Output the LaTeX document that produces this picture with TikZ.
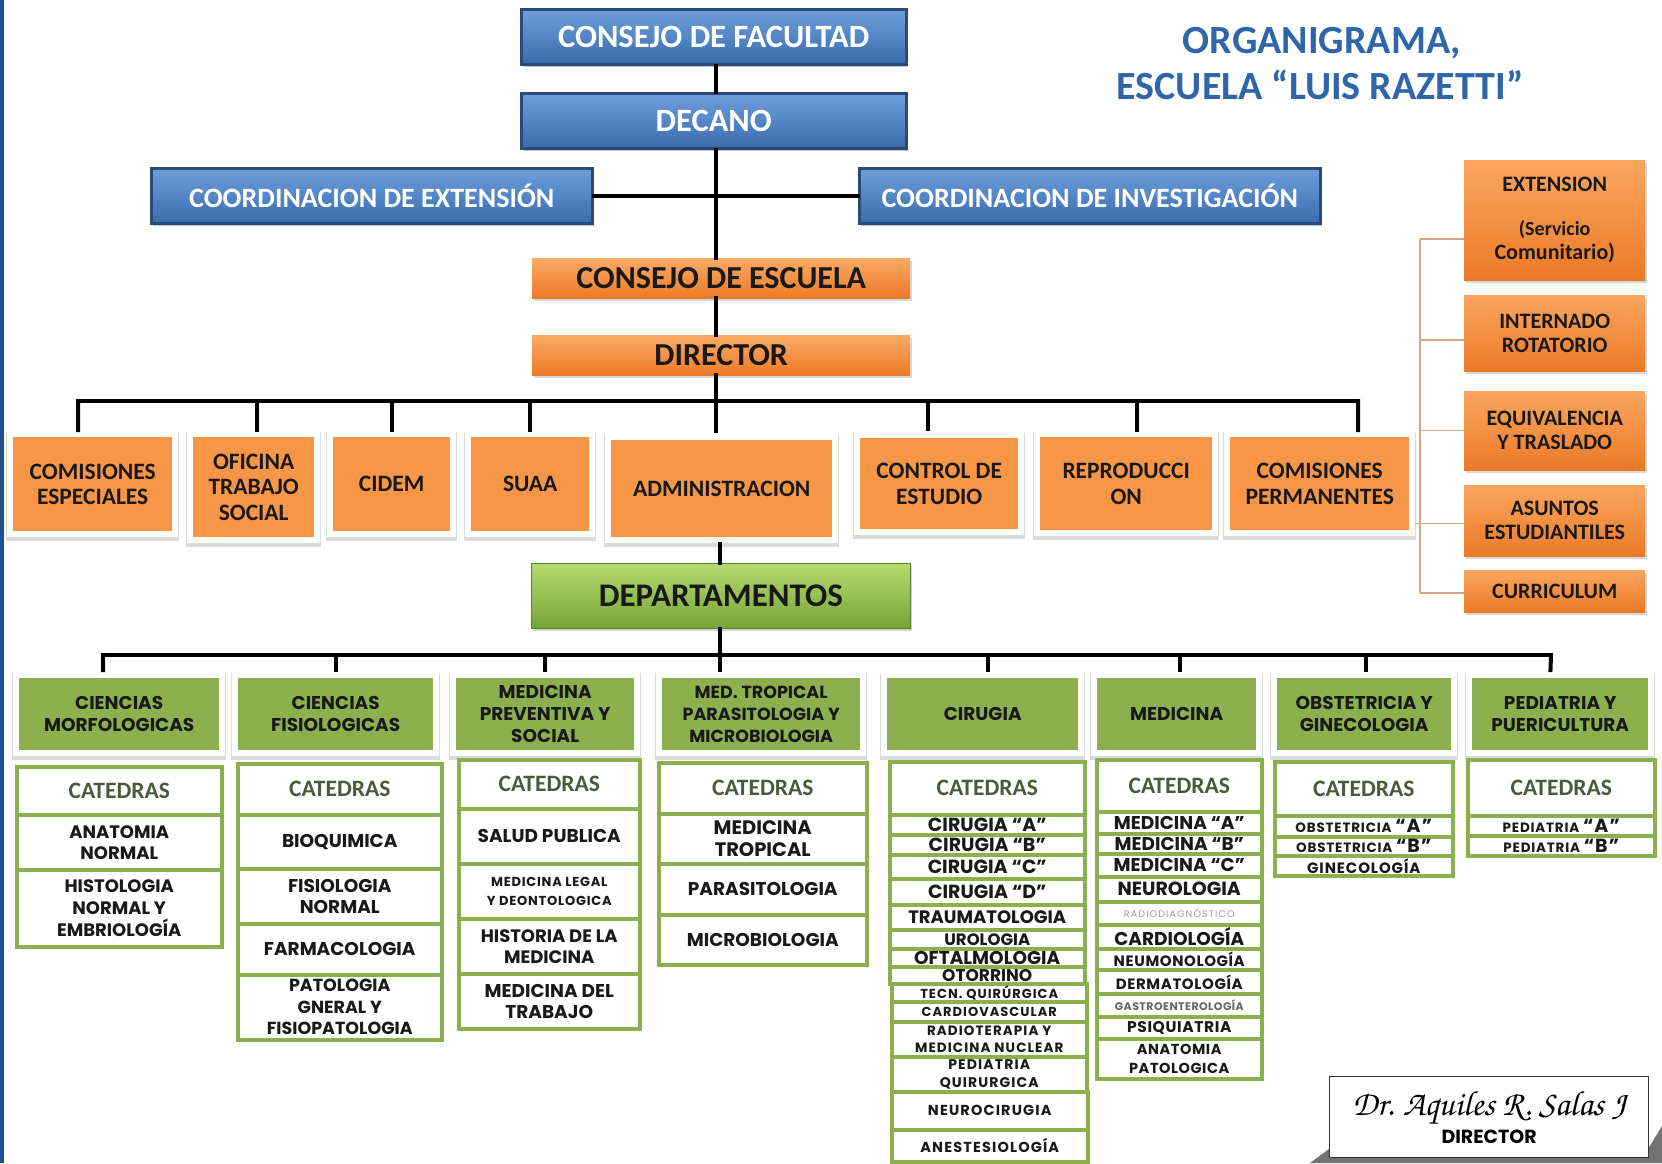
\documentclass[tikz,border=0pt]{standalone}
\usepackage[T1]{fontenc}
\usepackage{fontspec}
\setmainfont{Carlito}
\newfontfamily\goth{Poppins}
\usetikzlibrary{shadows,calc}
\definecolor{blueT}{HTML}{6E9FDB}
\definecolor{blueB}{HTML}{3A6BAE}
\definecolor{blueD}{HTML}{2B4A75}
\definecolor{orT}{HTML}{FBAA66}
\definecolor{orB}{HTML}{EC7A26}
\definecolor{orF}{HTML}{F79646}
\definecolor{grF}{HTML}{8DB04E}
\definecolor{grT}{HTML}{B5DA6E}
\definecolor{grB}{HTML}{77A437}
\definecolor{catG}{HTML}{8DB04E}
\definecolor{catT}{HTML}{4C5A3C}
\definecolor{titleB}{HTML}{2F66AA}
\definecolor{edgeB}{HTML}{1F4F8F}
\definecolor{brk}{HTML}{D9A783}
\newcommand\fs[2]{\fontsize{#1}{#2}\selectfont}
\newcommand\ls[1]{\addfontfeature{LetterSpace=#1}}
\newcommand\bx[7]{\node[#2,anchor=north west,minimum width={#5-#3},minimum height={#6-#4}] (#1) at (#3,#4) {#7};}
\newcommand\frm[4]{\fill[black!14] ({#1-7},{#2-5}) rectangle ({#3+7},{#4+10});
  \fill[white] ({#1-6},{#2-6}) rectangle ({#3+6},{#4+6});}
\begin{document}
\begin{tikzpicture}[x=1pt,y=-1pt,
  every node/.style={inner sep=0pt,align=center},
  bluebox/.style={draw=blueD,line width=2.5pt,top color=blueT,bottom color=blueB,text=white,
    font=\bfseries\fs{32.5}{34},drop shadow={shadow xshift=2pt,shadow yshift=-3pt,opacity=.45}},
  orgrad/.style={top color=orT,bottom color=orB,text=black!90,font=\bfseries\fs{32}{34},
    drop shadow={shadow xshift=2pt,shadow yshift=-3pt,opacity=.3}},
  orow/.style={fill=orF,text=black!90,font=\bfseries\fs{23.5}{25.5}},
  oright/.style={top color=orT!80!orF,bottom color=orB,text=black!90,font=\bfseries\fs{22}{24},
    drop shadow={shadow xshift=2pt,shadow yshift=-3pt,opacity=.3}},
  depbox/.style={top color=grT,bottom color=grB,draw=grB!80!black,line width=.8pt,text=black!90,
    font=\bfseries\fs{33}{35},drop shadow={shadow xshift=2pt,shadow yshift=-3pt,opacity=.35}},
  grbox/.style={fill=grF,text=black!90,font=\goth\bfseries\fs{18.5}{22}},
  cat/.style={draw=catG,line width=3.5pt,fill=white,text=black!90,font=\goth\bfseries\fs{18.5}{21}},
  cath/.style={cat,font=\bfseries\fs{23.5}{24},text=catT},
  conn/.style={line width=4pt,black,line cap=rect},
  brline/.style={line width=1.5pt,brk},
  title/.style={text=titleB,font=\bfseries\fs{40}{42}}]
\useasboundingbox (0,0) rectangle (1662,1163);
\fill[white] (0,0) rectangle (1662,1163);
\fill[edgeB] (0,0) rectangle (4,1163);

% title
\node[title,anchor=base] (t1) at (1322,53) {ORGANIGRAMA,};
\node[title,anchor=base] (t2) at (1320,99) {ESCUELA “LUIS RAZETTI”};

% blue boxes
\bx{cf}{bluebox}{520}{8}{905}{63}{CONSEJO DE FACULTAD}
\bx{dec}{bluebox}{520}{92}{905}{147}{DECANO}
\bx{cext}{bluebox,font=\bfseries\fs{28}{30}}{150}{167}{591}{222}{COORDINACION DE EXTENSIÓN}
\bx{cinv}{bluebox,font=\bfseries\fs{28}{30}}{858}{167}{1319}{222}{COORDINACION DE INVESTIGACIÓN}

% orange
\bx{ces}{orgrad}{532}{258}{910}{298}{CONSEJO DE ESCUELA}
\bx{dir}{orgrad}{532}{335}{910}{375}{DIRECTOR}

\frm{13}{437}{172}{531}\bx{oce}{orow}{13}{437}{172}{531}{COMISIONES\\ESPECIALES}
\frm{193}{437}{314}{537}\bx{oots}{orow}{193}{437}{314}{537}{OFICINA\\TRABAJO\\SOCIAL}
\frm{333}{437}{450}{531}\bx{ocid}{orow}{333}{437}{450}{531}{CIDEM}
\frm{471}{437}{589}{531}\bx{osua}{orow}{471}{437}{589}{531}{SUAA}
\frm{611}{440}{832}{537}\bx{oadm}{orow}{611}{440}{832}{537}{ADMINISTRACION}
\frm{860}{438}{1018}{529}\bx{octl}{orow}{860}{438}{1018}{529}{CONTROL DE\\ESTUDIO}
\frm{1040}{437}{1212}{530}\bx{orep}{orow}{1040}{437}{1212}{530}{REPRODUCCI\\ON}
\frm{1230}{437}{1409}{530}\bx{ocp}{orow}{1230}{437}{1409}{530}{COMISIONES\\PERMANENTES}

% right column
\bx{rext}{oright}{1464}{160}{1645}{280}{EXTENSION\\[20pt]\fs{20}{22}(Servicio\\Comunitario)}
\bx{rint}{oright}{1464}{295}{1645}{371}{INTERNADO\\ROTATORIO}
\bx{requ}{oright}{1464}{391}{1645}{470}{EQUIVALENCIA\\Y TRASLADO}
\bx{ras}{oright}{1464}{485}{1645}{556}{ASUNTOS\\ESTUDIANTILES}
\bx{rcur}{oright}{1464}{570}{1645}{612}{CURRICULUM}

% departamentos
\bx{dep}{depbox}{531}{563}{910}{628}{DEPARTAMENTOS}

\frm{19}{678}{219}{750}\bx{d1}{grbox}{19}{678}{219}{750}{CIENCIAS\\MORFOLOGICAS}
\frm{238}{678}{433}{750}\bx{d2}{grbox}{238}{678}{433}{750}{CIENCIAS\\FISIOLOGICAS}
\frm{456}{678}{634}{750}\bx{d3}{grbox}{456}{678}{634}{750}{MEDICINA\\PREVENTIVA Y\\SOCIAL}
\frm{662}{678}{860}{750}\bx{d4}{grbox,font=\goth\bfseries\fs{17.5}{22}}{662}{678}{860}{750}{MED. TROPICAL\\PARASITOLOGIA Y\\MICROBIOLOGIA}
\frm{887}{678}{1078}{750}\bx{d5}{grbox}{887}{678}{1078}{750}{CIRUGIA}
\frm{1097}{678}{1256}{750}\bx{d6}{grbox}{1097}{678}{1256}{750}{MEDICINA}
\frm{1277}{678}{1451}{750}\bx{d7}{grbox}{1277}{678}{1451}{750}{OBSTETRICIA Y\\GINECOLOGIA}
\frm{1472}{678}{1648}{750}\bx{d8}{grbox}{1472}{678}{1648}{750}{PEDIATRIA Y\\PUERICULTURA}

% column 1
\bx{c1h}{cath}{15}{765}{220}{813}{CATEDRAS}
\bx{c1a}{cat,font=\goth\bfseries\fs{18}{21}}{15}{813}{220}{868}{ANATOMIA\\NORMAL}
\bx{c1b}{cat,font=\goth\bfseries\fs{18}{22}}{15}{868}{220}{945}{HISTOLOGIA\\NORMAL Y\\EMBRIOLOGÍA}
% column 2
\bx{c2h}{cath}{236}{762}{440}{813}{CATEDRAS}
\bx{c2a}{cat}{236}{813}{440}{867}{BIOQUIMICA}
\bx{c2b}{cat}{236}{867}{440}{922}{FISIOLOGIA\\NORMAL}
\bx{c2c}{cat}{236}{922}{440}{973}{FARMACOLOGIA}
\bx{c2d}{cat,font=\goth\bfseries\fs{17.5}{21.5}}{236}{973}{440}{1038}{PATOLOGIA\\GNERAL Y\\FISIOPATOLOGIA}
% column 3
\bx{c3h}{cath}{457}{758}{638}{807}{CATEDRAS}
\bx{c3a}{cat}{457}{807}{638}{862}{SALUD PUBLICA}
\bx{c3b}{cat,font=\goth\bfseries\ls{6}\fs{13}{19}}{457}{862}{638}{917}{MEDICINA LEGAL\\Y DEONTOLOGICA}
\bx{c3c}{cat,font=\goth\bfseries\fs{18}{21}}{457}{917}{638}{972}{HISTORIA DE LA\\MEDICINA}
\bx{c3d}{cat,font=\goth\bfseries\fs{18.5}{21}}{457}{972}{638}{1027}{MEDICINA DEL\\TRABAJO}
% column 4
\bx{c4h}{cath}{657}{761}{865}{812}{CATEDRAS}
\bx{c4a}{cat,font=\goth\bfseries\fs{19.5}{22}}{657}{812}{865}{862}{MEDICINA\\TROPICAL}
\bx{c4b}{cat}{657}{862}{865}{913}{PARASITOLOGIA}
\bx{c4c}{cat}{657}{913}{865}{963}{MICROBIOLOGIA}
% column 5
\bx{c5h}{cath}{888}{760}{1083}{813}{CATEDRAS}
\bx{c5a}{cat,font=\goth\bfseries\fs{19}{20}}{888}{813}{1083}{833}{CIRUGIA “A”}
\bx{c5b}{cat,font=\goth\bfseries\fs{19}{20}}{888}{833}{1083}{853}{CIRUGIA “B”}
\bx{c5c}{cat,font=\goth\bfseries\fs{19}{20}}{888}{853}{1083}{877}{CIRUGIA “C”}
\bx{c5d}{cat,font=\goth\bfseries\fs{19}{20}}{888}{877}{1083}{903}{CIRUGIA “D”}
\bx{c5e}{cat,font=\goth\bfseries\fs{18}{19}}{888}{903}{1083}{928}{TRAUMATOLOGIA}
\bx{c5f}{cat,font=\goth\bfseries\fs{16.5}{17}}{888}{928}{1083}{947}{UROLOGIA}
\bx{c5g}{cat,font=\goth\bfseries\fs{18.5}{19}}{888}{947}{1083}{965}{OFTALMOLOGIA}
\bx{c5h2}{cat,font=\goth\bfseries\fs{17}{18}}{888}{965}{1083}{982}{OTORRINO}
\bx{c5i}{cat,font=\goth\bfseries\ls{8}\fs{13}{14}}{890}{982}{1085}{1000}{TECN. QUIRÚRGICA}
\bx{c5j}{cat,font=\goth\bfseries\ls{8}\fs{13}{14}}{890}{1000}{1085}{1020}{CARDIOVASCULAR}
\bx{c5k}{cat,font=\goth\bfseries\ls{8}\fs{13.5}{17}}{890}{1020}{1085}{1055}{RADIOTERAPIA Y\\MEDICINA NUCLEAR}
\bx{c5l}{cat,font=\goth\bfseries\ls{8}\fs{14}{18}}{890}{1055}{1085}{1090}{PEDIATRIA\\QUIRURGICA}
\bx{c5m}{cat,font=\goth\bfseries\ls{8}\fs{14.5}{15}}{890}{1090}{1086}{1128}{NEUROCIRUGIA}
\bx{c5n}{cat,font=\goth\bfseries\ls{8}\fs{14.5}{15}}{890}{1128}{1086}{1160}{ANESTESIOLOGÍA}
% column 6
\bx{c6h}{cath}{1095}{758}{1260}{810}{CATEDRAS}
\bx{c6a}{cat,font=\goth\bfseries\fs{18.5}{19}}{1095}{810}{1260}{832}{MEDICINA “A”}
\bx{c6b}{cat,font=\goth\bfseries\fs{18.5}{19}}{1095}{832}{1260}{852}{MEDICINA “B”}
\bx{c6c}{cat,font=\goth\bfseries\fs{18.5}{19}}{1095}{852}{1260}{875}{MEDICINA “C”}
\bx{c6d}{cat,font=\goth\bfseries\fs{19}{20}}{1095}{875}{1260}{900}{NEUROLOGIA}
\bx{c6e}{cat,font=\goth\ls{12}\fs{9.5}{10},text=black!40}{1095}{900}{1260}{923}{RADIODIAGNÓSTICO}
\bx{c6f}{cat,font=\goth\bfseries\fs{18.5}{19}}{1095}{923}{1260}{947}{CARDIOLOGÍA}
\bx{c6g}{cat,font=\goth\bfseries\ls{4}\fs{15}{16}}{1095}{947}{1260}{968}{NEUMONOLOGÍA}
\bx{c6h2}{cat,font=\goth\bfseries\ls{4}\fs{15}{16}}{1095}{968}{1260}{992}{DERMATOLOGÍA}
\bx{c6i}{cat,font=\goth\bfseries\ls{4}\fs{11}{12},text=black!60}{1095}{992}{1260}{1015}{GASTROENTEROLOGÍA}
\bx{c6j}{cat,font=\goth\bfseries\ls{4}\fs{15.5}{16}}{1095}{1015}{1260}{1037}{PSIQUIATRIA}
\bx{c6k}{cat,font=\goth\bfseries\ls{4}\fs{14.5}{19}}{1095}{1037}{1260}{1077}{ANATOMIA\\PATOLOGICA}
% column 7
\bx{c7h}{cath}{1273}{760}{1451}{814}{CATEDRAS}
\bx{c7a}{cat,font=\goth\bfseries\ls{6}\fs{13.5}{14}}{1273}{814}{1451}{835}{OBSTETRICIA {\fs{19}{20}“A”}}
\bx{c7b}{cat,font=\goth\bfseries\ls{6}\fs{13.5}{14}}{1273}{835}{1451}{854}{OBSTETRICIA {\fs{19}{20}“B”}}
\bx{c7c}{cat,font=\goth\bfseries\ls{6}\fs{15}{16}}{1273}{854}{1451}{874}{GINECOLOGÍA}
% column 8
\bx{c8h}{cath}{1466}{758}{1653}{814}{CATEDRAS}
\bx{c8a}{cat,font=\goth\bfseries\ls{6}\fs{13.5}{14}}{1466}{814}{1653}{834}{PEDIATRIA {\fs{19}{20}“A”}}
\bx{c8b}{cat,font=\goth\bfseries\ls{6}\fs{13.5}{14}}{1466}{834}{1653}{854}{PEDIATRIA {\fs{19}{20}“B”}}

% signature
\fill[black!55] (1310,1163) -- (1329,1149) -- (1648,1149) -- (1662,1126) -- (1662,1163) -- cycle;
\bx{sig}{draw=black!80,line width=1.2pt,fill=white}{1329}{1076}{1648}{1157}{\usefont{T1}{pzc}{m}{it}\fs{35}{32}Dr. Aquiles R. Salas J\\[3pt]\goth\bfseries\fs{19}{20}DIRECTOR}

% connectors
\coordinate (sp) at (716,0);
\coordinate (sp2) at (720,0);
\draw[conn] (cf.south -| sp) -- (dec.north -| sp);
\draw[conn] (dec.south -| sp) -- (ces.north -| sp);
\draw[conn] (cext.east) -- (cinv.west);
\draw[conn] (ces.south -| sp) -- (dir.north -| sp);
\coordinate (barL) at (78,401);
\coordinate (barR) at (1358,401);
\draw[conn] (barL) -- (barR);
\draw[conn] (dir.south -| sp) -- (barL -| sp);
\draw[conn,shorten >=7pt] (barL) -- ([xshift=-14.5pt]oce.north);
\draw[conn,shorten >=7pt] ([xshift=3.5pt]oots.north |- barL) -- ([xshift=3.5pt]oots.north);
\draw[conn,shorten >=7pt] (ocid.north |- barL) -- (ocid.north);
\draw[conn,shorten >=7pt] (osua.north |- barL) -- (osua.north);
\draw[conn,shorten >=9pt] (barL -| sp) -- (oadm.north -| sp);
\draw[conn,shorten >=9pt] ([xshift=-11pt]octl.north |- barL) -- ([xshift=-11pt]octl.north);
\draw[conn,shorten >=7pt] ([xshift=11pt]orep.north |- barL) -- ([xshift=11pt]orep.north);
\draw[conn,shorten >=7pt] (barR) -- ([xshift=38.5pt]ocp.north);
\draw[conn,shorten <=7pt] (oadm.south -| sp2) -- (dep.north -| sp2);
\coordinate (dbarL) at (103,655);
\coordinate (dbarR) at (1551,655);
\draw[conn] (dbarL) -- (dbarR);
\draw[conn] (dep.south -| sp2) -- (dbarL -| sp2);
\draw[conn,shorten >=8pt] (dbarL) -- ([xshift=-16pt]d1.north);
\draw[conn,shorten >=8pt] (d2.north |- dbarL) -- (d2.north);
\draw[conn,shorten >=8pt] (d3.north |- dbarL) -- (d3.north);
\draw[conn,shorten >=8pt] (dbarL -| sp2) -- (d4.north -| sp2);
\draw[conn,shorten >=8pt] ([xshift=5.5pt]d5.north |- dbarL) -- ([xshift=5.5pt]d5.north);
\draw[conn,shorten >=8pt] ([xshift=3.5pt]d6.north |- dbarL) -- ([xshift=3.5pt]d6.north);
\draw[conn,shorten >=8pt] ([xshift=2pt]d7.north |- dbarL) -- ([xshift=2pt]d7.north);
\draw[conn,shorten >=8pt] (dbarR) -- ([xshift=-10pt]d8.north);

% right bracket
\coordinate (brT) at (1420,239);
\coordinate (brB) at (1420,593);
\draw[brline] (brT) -- (brB);
\draw[brline] (brT) -- (brT -| rext.west);
\draw[brline] ([yshift=-7pt]brT |- rint.west) -- ([yshift=-7pt]rint.west);
\draw[brline] (brT |- requ.west) -- (requ.west);
\draw[brline] ([xshift=6pt,yshift=-3pt]ocp.east |- ras.west) -- ([yshift=-3pt]ras.west);
\draw[brline] (brB) -- (brB -| rcur.west);
\end{tikzpicture}
\end{document}
